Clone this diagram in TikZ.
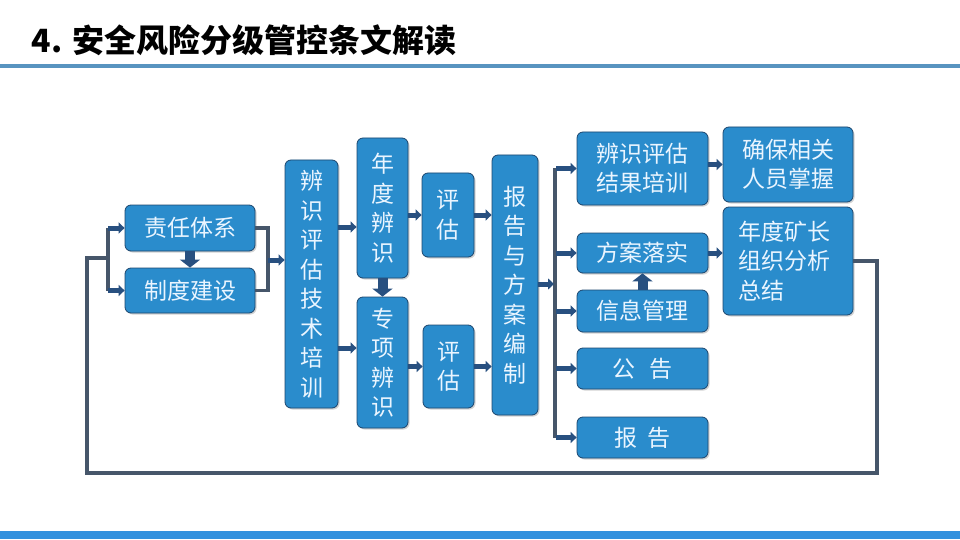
\documentclass[tikz,border=0pt]{standalone}
\usepackage{fontspec}
\usepackage{tikz}
\usetikzlibrary{arrows.meta,shadows}
\newfontfamily\cjk{Noto Sans CJK SC}

\definecolor{boxblue}{RGB}{42,140,204}
\definecolor{boxedge}{RGB}{28,70,110}
\definecolor{boxtext}{RGB}{234,245,255}
\definecolor{linegray}{RGB}{70,86,106}
\definecolor{arrowblue}{RGB}{40,80,128}
\definecolor{rulefill}{RGB}{88,148,192}
\definecolor{barblue}{RGB}{50,145,222}

\tikzset{
  blk/.style={draw=boxedge, line width=0.8pt, fill=boxblue, rounded corners=6pt,
    text=boxtext, font=\cjk\fontsize{23}{29.5}\selectfont, align=center, inner sep=0pt,
    drop shadow={shadow xshift=1.5pt, shadow yshift=-1.5pt, opacity=0.35}},
  wire/.style={draw=linegray, line width=3.6pt},
  tip/.style={draw=arrowblue, line width=5pt, -{Triangle[length=6pt,width=11pt]}},
  bigtip/.style={draw=arrowblue, line width=10pt, -{Triangle[length=8pt,width=20pt]}},
}

\begin{document}
\begin{tikzpicture}[x=1pt, y=-1pt]
  \useasboundingbox (0,0) rectangle (960,540);
  \node[anchor=west, font=\cjk\bfseries\fontsize{32}{36}\selectfont] (title) at (28,40) {4. 安全风险分级管控条文解读};
  \draw[rulefill, line width=3.5pt] (0,66) -- (960,66);
  \fill[barblue] (0,531) rectangle (960,539);

  \node[blk, minimum width=130pt, minimum height=46pt] (zr) at (190,228) {责任体系};
  \node[blk, minimum width=130pt, minimum height=45pt] (zd) at (190,290.5) {制度建设};
  \node[blk, minimum width=53pt, minimum height=248pt] (px) at (311.5,284) {辨\\识\\评\\估\\技\\术\\培\\训};
  \node[blk, minimum width=51pt, minimum height=140pt] (nd) at (382.5,208) {年\\度\\辨\\识};
  \node[blk, minimum width=51pt, minimum height=131pt] (zx) at (382.5,362.5) {专\\项\\辨\\识};
  \node[blk, minimum width=52pt, minimum height=84pt] (pg1) at (448,215) {评\\估};
  \node[blk, minimum width=51pt, minimum height=83pt] (pg2) at (448.5,366.5) {评\\估};
  \node[blk, minimum width=46pt, minimum height=260pt] (bg) at (515,285) {报\\告\\与\\方\\案\\编\\制};
  \node[blk, minimum width=131pt, minimum height=73pt] (jg) at (642.5,168.5) {辨识评估\\结果培训};
  \node[blk, minimum width=131pt, minimum height=40pt] (fa) at (642.5,253) {方案落实};
  \node[blk, minimum width=131pt, minimum height=42pt] (xx) at (642.5,311) {信息管理};
  \node[blk, minimum width=131pt, minimum height=41pt] (gg) at (642.5,368.5) {公\hspace{14pt}告};
  \node[blk, minimum width=131pt, minimum height=41pt] (bgx) at (642.5,437.5) {报\hspace{10pt}告};
  \node[blk, minimum width=130pt, minimum height=75pt] (qb) at (788,164.5) {确保相关\\人员掌握};
  \node[blk, minimum width=130pt, minimum height=108pt, text width=100pt, align=left] (zj) at (788,261) {年度矿长\\组织分析\\总结};

  \coordinate (lb) at (108,258);
  \coordinate (rb) at (268,260);
  \coordinate (bus) at (555,300);
  \coordinate (lp1) at (877,473);
  \coordinate (lp2) at (87,258);

  % left part
  \draw[wire] (lb |- zr.west) -- (lb |- zd.west);
  \draw[tip] (lb |- zr.west) -- (zr.west);
  \draw[tip] (lb |- zd.west) -- (zd.west);
  \draw[bigtip] (zr.south) -- (zd.north);
  \draw[wire] (zr.east) -| (rb) |- (zd.east);
  \draw[tip] (rb) -- (rb -| px.west);

  % identification and assessment
  \draw[tip] (px.east |- 0,227) -- (nd.west |- 0,227);
  \draw[tip] (px.east |- 0,348) -- (zx.west |- 0,348);
  \draw[bigtip] (nd.south) -- (zx.north);
  \draw[tip] (nd.east |- pg1.west) -- (pg1.west);
  \draw[tip] (zx.east |- pg2.west) -- (pg2.west);
  \draw[tip] (pg1.east) -- (pg1.east -| bg.west);
  \draw[tip] (pg2.east) -- (pg2.east -| bg.west);

  % outputs
  \draw[wire] (bus |- jg.west) -- (bus |- bgx.west);
  \draw[tip] (bg.east |- 0,284) -- ([xshift=-1pt]bus |- 0,284);
  \foreach \n in {jg,fa,xx,gg,bgx}
    \draw[tip] ([xshift=1pt]bus |- \n.west) -- (\n.west);
  \draw[bigtip] (xx.north) -- (fa.south);
  \draw[tip] (jg.east |- qb.west) -- (qb.west);
  \draw[tip] (fa.east) -- (fa.east -| zj.west);

  % feedback loop
  \draw[wire] (zj.east) -| (lp1) -| (lp2) -- (lb);
\end{tikzpicture}
\end{document}
